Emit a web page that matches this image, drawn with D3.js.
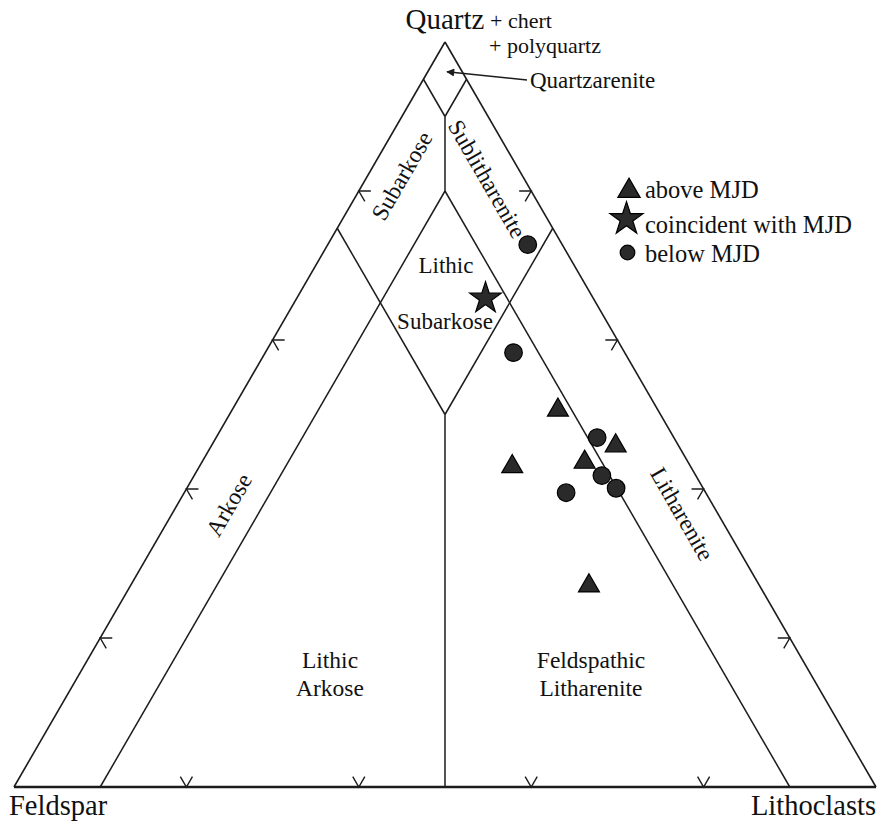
<!DOCTYPE html>
<html>
<head>
<meta charset="utf-8">
<script src="https://cdn.jsdelivr.net/npm/d3@7"></script>
<style>
  html, body { margin: 0; padding: 0; background: #fff; }
  svg text { font-family: "Liberation Serif", "Times New Roman", serif; fill: #111; }
</style>
</head>
<body>
<svg id="chart" width="877" height="821"></svg>
<script>
// QFL composition (percent) of each sample, grouped by position relative to the MJD
const aboveQ = [50.6, 45.8, 43.0, 43.6, 27.0];
const aboveF = [11.6, 7.3, 20.7, 12.0, 19.8];
const aboveL = [37.8, 46.9, 36.3, 44.4, 53.2];

const coincQ = [65.6];
const coincF = [12.5];
const coincL = [21.9];

const belowQ = [72.8, 58.3, 46.9, 41.8, 40.1, 39.5];
const belowF = [4.0, 12.9, 8.9, 10.9, 10.1, 16.2];
const belowL = [23.2, 28.8, 44.2, 47.3, 49.8, 44.3];

// Classification field boundaries, each as two [Q, F, L] end points
const boundaries = [
  [[95, 5, 0], [90, 5, 5]],
  [[95, 0, 5], [90, 5, 5]],
  [[90, 5, 5], [80, 10, 10]],
  [[0, 90, 10], [80, 10, 10]],
  [[0, 10, 90], [80, 10, 10]],
  [[75, 25, 0], [50, 25, 25]],
  [[75, 0, 25], [50, 25, 25]],
  [[50, 25, 25], [0, 50, 50]]
];

// Tick positions (percent) along each side
const tickValues = [20, 40, 60, 80];

const legendLabels = ["above MJD", "coincident with MJD", "below MJD"];

const svg = d3.select("#chart");

// Horizontal position is L + Q/2, vertical position is Q
const xScale = d3.scaleLinear().domain([0, 100]).range([14, 876]);
const yScale = d3.scaleLinear().domain([0, 100]).range([787, 42]);

function proj(q, f, l) {
  const s = q + f + l;
  const qn = q * 100 / s, ln = l * 100 / s;
  return [xScale(ln + qn / 2), yScale(qn)];
}

const line = d3.line();
const ink = "#1c1c1c";

// Outer triangle
const corners = [[0, 100, 0], [0, 0, 100], [100, 0, 0]].map(c => proj(...c));
svg.append("path")
  .attr("d", line([corners[2], corners[0]]))
  .attr("stroke", ink).attr("stroke-width", 1.6).attr("fill", "none");
svg.append("path")
  .attr("d", line([corners[2], corners[1]]))
  .attr("stroke", ink).attr("stroke-width", 1.6).attr("fill", "none");
svg.append("path")
  .attr("d", line([corners[0], corners[1]]))
  .attr("stroke", ink).attr("stroke-width", 2.4).attr("fill", "none");

// Field boundaries
svg.append("g").selectAll("path")
  .data(boundaries)
  .join("path")
  .attr("d", d => line(d.map(p => proj(...p))))
  .attr("stroke", ink).attr("stroke-width", 1.5).attr("fill", "none");

// Edge ticks: two short stubs along the grid directions entering the triangle
const d = 1.4;
const ticks = [];
tickValues.forEach(v => {
  // Quartz–Feldspar side
  ticks.push([[v, 100 - v - d, d], [v, 100 - v, 0], [v - d, 100 - v, d]]);
  // Quartz–Lithoclasts side
  ticks.push([[v, d, 100 - v - d], [v, 0, 100 - v], [v - d, d, 100 - v]]);
  // Feldspar–Lithoclasts side
  ticks.push([[d, 100 - v - d, v], [0, 100 - v, v], [d, 100 - v, v - d]]);
});
svg.append("g").selectAll("path")
  .data(ticks)
  .join("path")
  .attr("d", t => line(t.map(p => proj(...p))))
  .attr("stroke", ink).attr("stroke-width", 1.4).attr("fill", "none");

// Field labels
function label(txt, x, y, size, rot) {
  svg.append("text")
    .attr("transform", `translate(${x},${y}) rotate(${rot || 0})`)
    .attr("text-anchor", "middle")
    .attr("dy", "0.33em")
    .attr("font-size", size)
    .text(txt);
}
label("Subarkose", 402, 176, 23.5, -60);
label("Sublitharenite", 487, 179, 23.5, 60);
label("Arkose", 229, 505, 23.5, -60);
label("Litharenite", 682, 514, 23.5, 60);
label("Lithic", 446, 265, 23);
label("Subarkose", 445, 321, 23);
label("Lithic", 330, 660, 23.5);
label("Arkose", 330, 688, 23.5);
label("Feldspathic", 591, 660, 23.5);
label("Litharenite", 591, 688, 23.5);

// Pole labels
svg.append("text").attr("x", 445).attr("y", 29).attr("text-anchor", "middle")
  .attr("font-size", 29).text("Quartz");
svg.append("text").attr("x", 490).attr("y", 28).attr("font-size", 22).text("+ chert");
svg.append("text").attr("x", 489).attr("y", 53).attr("font-size", 22).text("+ polyquartz");
svg.append("text").attr("x", 9).attr("y", 815).attr("font-size", 28.5).text("Feldspar");
svg.append("text").attr("x", 876).attr("y", 815).attr("text-anchor", "end")
  .attr("font-size", 28.5).text("Lithoclasts");

// Quartzarenite callout
svg.append("defs").append("marker")
  .attr("id", "arrowHead").attr("viewBox", "0 0 10 10")
  .attr("refX", 9).attr("refY", 5)
  .attr("markerWidth", 10).attr("markerHeight", 8)
  .attr("markerUnits", "userSpaceOnUse")
  .attr("orient", "auto")
  .append("path").attr("d", "M0,0 L10,5 L0,10 Z").attr("fill", ink);
const tip = proj(96, 2, 2);
svg.append("path")
  .attr("d", line([[527, 80], [tip[0] + 2, tip[1]]]))
  .attr("stroke", ink).attr("stroke-width", 1.5).attr("fill", "none")
  .attr("marker-end", "url(#arrowHead)");
svg.append("text").attr("x", 530).attr("y", 88).attr("font-size", 23).text("Quartzarenite");

// Sample markers
const markFill = "#2a2a2a";
const triangle = d3.symbol().type(d3.symbolTriangle).size(190);
const star = d3.symbol().type(d3.symbolStar).size(310);

svg.append("g").selectAll("path")
  .data(aboveQ.map((q, i) => proj(q, aboveF[i], aboveL[i])))
  .join("path")
  .attr("transform", p => `translate(${p[0]},${p[1]})`)
  .attr("d", triangle)
  .attr("fill", markFill).attr("stroke", "#000").attr("stroke-width", 1.2);

svg.append("g").selectAll("circle")
  .data(belowQ.map((q, i) => proj(q, belowF[i], belowL[i])))
  .join("circle")
  .attr("cx", p => p[0]).attr("cy", p => p[1]).attr("r", 8.8)
  .attr("fill", markFill).attr("stroke", "#000").attr("stroke-width", 1.2);

svg.append("g").selectAll("path")
  .data(coincQ.map((q, i) => proj(q, coincF[i], coincL[i])))
  .join("path")
  .attr("transform", p => `translate(${p[0]},${p[1]})`)
  .attr("d", star)
  .attr("fill", markFill).attr("stroke", "#000").attr("stroke-width", 1.2);

// Legend
const lg = svg.append("g");
lg.append("path").attr("transform", "translate(629,191)")
  .attr("d", d3.symbol().type(d3.symbolTriangle).size(215))
  .attr("fill", markFill).attr("stroke", "#000").attr("stroke-width", 1.2);
lg.append("path").attr("transform", "translate(626.5,219)")
  .attr("d", d3.symbol().type(d3.symbolStar).size(340))
  .attr("fill", markFill).attr("stroke", "#000").attr("stroke-width", 1.2);
lg.append("circle").attr("cx", 627.5).attr("cy", 252.5).attr("r", 7.3)
  .attr("fill", markFill).attr("stroke", "#000").attr("stroke-width", 1.2);
const legendY = [198, 233, 262];
lg.selectAll("text")
  .data(legendLabels)
  .join("text")
  .attr("x", 645).attr("y", (t, i) => legendY[i])
  .attr("font-size", 24.5)
  .text(t => t);
</script>
</body>
</html>
